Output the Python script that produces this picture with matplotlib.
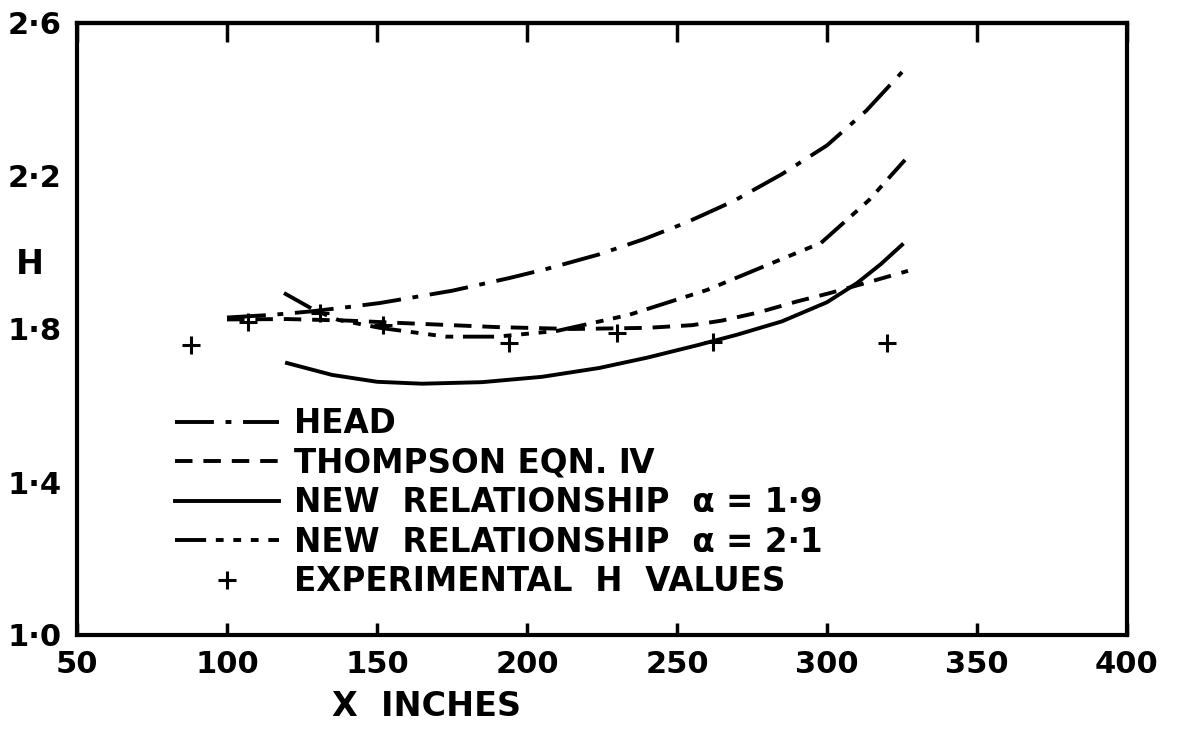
import numpy as np
import matplotlib
matplotlib.use('Agg')
import matplotlib.pyplot as plt

plt.rcParams['font.family'] = ['DejaVu Sans', 'Noto Sans']
plt.rcParams['font.weight'] = 'bold'

# values
head_x = [100, 115, 128, 141, 151, 175, 194, 207, 224, 239, 253, 269, 285, 300, 313, 326]
head_y = [1.83, 1.837, 1.846, 1.858, 1.868, 1.90, 1.933, 1.958, 1.995, 2.035, 2.078, 2.135, 2.205, 2.28, 2.37, 2.48]

thompson_x = [100, 120, 140, 160, 190, 215, 240, 255, 265, 277, 290, 301, 315, 327]
thompson_y = [1.825, 1.826, 1.822, 1.815, 1.805, 1.80, 1.803, 1.81, 1.822, 1.843, 1.872, 1.894, 1.925, 1.952]

new19_x = [120, 135, 150, 165, 185, 205, 224, 240, 257, 270, 285, 300, 310, 318, 325]
new19_y = [1.711, 1.68, 1.662, 1.657, 1.661, 1.675, 1.698, 1.725, 1.758, 1.785, 1.82, 1.87, 1.92, 1.97, 2.02]

new21_x = [119, 129, 137, 151, 173, 190, 210, 234, 260, 280, 298, 314, 326]
new21_y = [1.894, 1.85, 1.824, 1.803, 1.78, 1.78, 1.795, 1.837, 1.902, 1.967, 2.025, 2.137, 2.242]

exp_x = [88, 107, 131, 152, 194, 230, 262, 320]
exp_y = [1.758, 1.819, 1.842, 1.81, 1.763, 1.79, 1.766, 1.763]

x_ticks = [50, 100, 150, 200, 250, 300, 350, 400]
y_ticks = [1.0, 1.4, 1.8, 2.2, 2.6]
y_tick_labels = ['1·0', '1·4', '1·8', '2·2', '2·6']

fig = plt.figure(figsize=(11.78, 7.29), dpi=100)
ax = fig.add_axes([77/1178, 1 - 635/729, 1050/1178, 612/729])

lw = 2.8
ax.plot(head_x, head_y, color='black', lw=lw, dashes=(10, 3, 1.5, 3), label='HEAD')
ax.plot(thompson_x, thompson_y, color='black', lw=lw, dashes=(4.5, 2.8), label='THOMPSON EQN. Ⅳ')
ax.plot(new19_x, new19_y, color='black', lw=lw, label='NEW  RELATIONSHIP  α = 1·9')
ax.plot(new21_x, new21_y, color='black', lw=lw, dashes=(8, 2.5, 2, 2.5, 2, 2.5, 2, 2.5),
        label='NEW  RELATIONSHIP  α = 2·1')
ax.plot(exp_x, exp_y, ls='none', marker='+', ms=13, mew=2.2, color='black',
        label='EXPERIMENTAL  H  VALUES')

ax.set_xlim(50, 400)
ax.set_ylim(1.0, 2.6)

for s in ax.spines.values():
    s.set_linewidth(3)

ax.set_xticks(x_ticks)
ax.set_xticklabels([str(v) for v in x_ticks])
ax.tick_params(axis='x', direction='in', length=9, width=2.5, pad=11, labelsize=22)
ax.set_yticks(y_ticks)
ax.set_yticklabels(y_tick_labels)
ax.tick_params(axis='y', length=0, pad=11, labelsize=22)

top = ax.secondary_xaxis('top')
top.set_xticks(x_ticks)
top.set_xticklabels([])
top.tick_params(direction='in', length=14, width=2.5)
top.spines['top'].set_linewidth(3)

leg = ax.legend(loc='upper left', bbox_to_anchor=((175 - 77) / 1050, (635 - 407) / 612),
                frameon=False, fontsize=23.5, handlelength=3.2, handletextpad=0.45,
                labelspacing=0.2, borderpad=0, borderaxespad=0)

fig.text(30/1178, 1 - 265/729, 'H', fontsize=24, ha='center', va='center')
fig.text(426/1178, 1 - 706/729, 'X  INCHES', fontsize=24, ha='center', va='center')

fig.savefig('out.png', dpi=100)
